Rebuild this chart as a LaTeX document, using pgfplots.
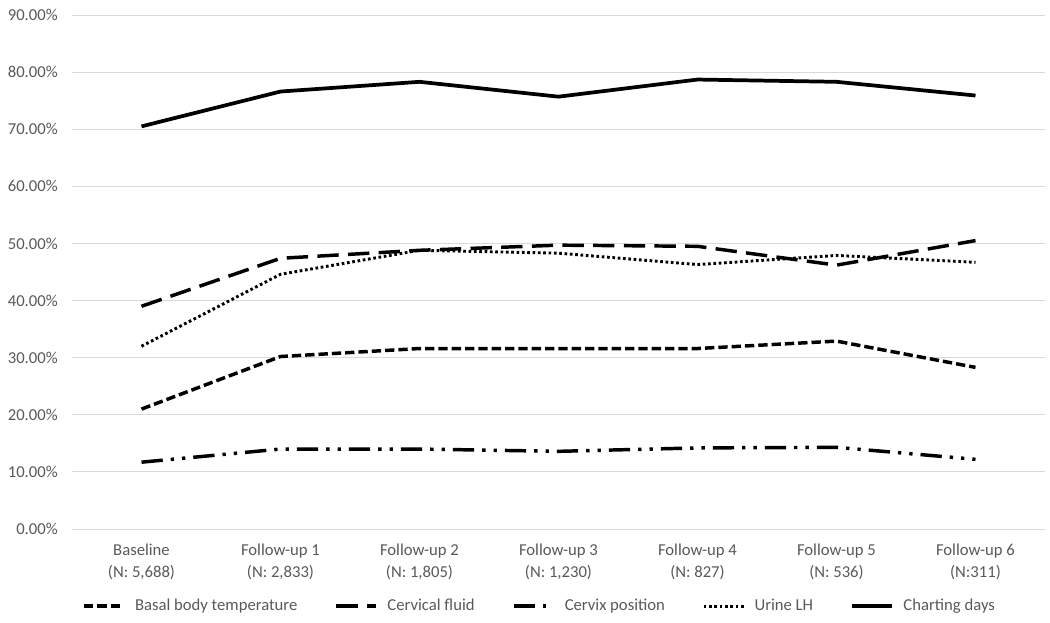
\documentclass[border=0pt]{standalone}
\usepackage{pgfplots}
\pgfplotsset{compat=1.18}
\usepackage{fontspec}
\setmainfont{Carlito}
\definecolor{tickgray}{HTML}{595959}
\definecolor{gridgray}{HTML}{D9D9D9}
\begin{document}
\begin{tikzpicture}
\path[use as bounding box] (-54pt,-69.75pt) rectangle (733.5pt,396.75pt);
\begin{axis}[
  at={(0,0)}, anchor=south west,
  scale only axis,
  width=729.75pt, height=385.5pt,
  xmin=-0.5, xmax=6.5,
  ymin=0, ymax=90,
  ytick={0,10,...,90},
  yticklabel={\pgfmathprintnumber[fixed,fixed zerofill,precision=2]{\tick}\%},
  /pgf/number format/assume math mode=true,
  xtick={0,...,6},
  xticklabels={{Baseline\\(N: 5,688)},{Follow-up 1\\(N: 2,833)},{Follow-up 2\\(N: 1,805)},{Follow-up 3\\(N: 1,230)},{Follow-up 4\\(N: 827)},{Follow-up 5\\(N: 536)},{Follow-up 6\\(N:311)}},
  xticklabel style={align=center, anchor=north, inner sep=0pt, yshift=-11pt,
    font=\fontsize{12.5}{16.5}\selectfont, text=tickgray},
  yticklabel style={anchor=east, inner sep=0pt, xshift=-10.5pt,
    font=\fontsize{12.5}{15}\selectfont, text=tickgray},
  ymajorgrids, grid style={gridgray, line width=0.75pt},
  axis line style={draw=none},
  axis x line*=bottom,
  x axis line style={draw=gridgray, line width=0.75pt},
  major tick length=0pt,
  tick style={draw=none},
  legend columns=5,
  legend style={at={(0.0105,-0.15)}, anchor=west, draw=none, fill=none,
    inner sep=0pt, outer sep=0pt,
    font=\fontsize{12.5}{15}\selectfont, text=tickgray,
    /tikz/every odd column/.append style={column sep=5pt},
    /tikz/every even column/.append style={column sep=26pt}},
  legend image code/.code={\draw[#1] (0pt,0pt) -- (30pt,0pt);},
  every axis plot/.append style={line width=2.6pt, black},
]
\addplot[dash pattern=on 7pt off 3pt] coordinates {(0,21.0) (1,30.2) (2,31.6) (3,31.6) (4,31.6) (5,32.9) (6,28.3)};
\addlegendentry{Basal body temperature}
\addplot[dash pattern=on 16pt off 7pt] coordinates {(0,39.0) (1,47.4) (2,48.8) (3,49.7) (4,49.5) (5,46.2) (6,50.5)};
\addlegendentry{Cervical fluid}
\addplot[dash pattern=on 16pt off 6pt on 2.5pt off 6pt on 2.5pt off 6pt] coordinates {(0,11.7) (1,14.0) (2,14.0) (3,13.6) (4,14.2) (5,14.3) (6,12.2)};
\addlegendentry{Cervix position}
\addplot[line width=2.2pt, dash pattern=on 2pt off 2pt] coordinates {(0,32.0) (1,44.6) (2,48.8) (3,48.3) (4,46.3) (5,47.9) (6,46.7)};
\addlegendentry{Urine LH}
\addplot[line width=2.8pt] coordinates {(0,70.5) (1,76.6) (2,78.3) (3,75.7) (4,78.7) (5,78.3) (6,75.9)};
\addlegendentry{Charting days}
\end{axis}
\end{tikzpicture}
\end{document}
